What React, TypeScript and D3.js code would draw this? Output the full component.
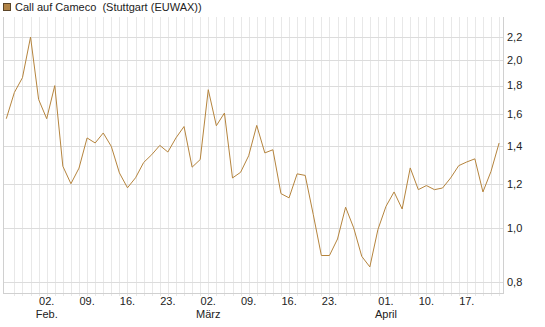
import React from 'react';
import * as d3 from 'd3';

// trading days (Stuttgart, Good Friday / Easter Monday closed)
const dates = [
  '2026-01-26', '2026-01-27', '2026-01-28', '2026-01-29', '2026-01-30',
  '2026-02-02', '2026-02-03', '2026-02-04', '2026-02-05', '2026-02-06',
  '2026-02-09', '2026-02-10', '2026-02-11', '2026-02-12', '2026-02-13',
  '2026-02-16', '2026-02-17', '2026-02-18', '2026-02-19', '2026-02-20',
  '2026-02-23', '2026-02-24', '2026-02-25', '2026-02-26', '2026-02-27',
  '2026-03-02', '2026-03-03', '2026-03-04', '2026-03-05', '2026-03-06',
  '2026-03-09', '2026-03-10', '2026-03-11', '2026-03-12', '2026-03-13',
  '2026-03-16', '2026-03-17', '2026-03-18', '2026-03-19', '2026-03-20',
  '2026-03-23', '2026-03-24', '2026-03-25', '2026-03-26', '2026-03-27',
  '2026-03-30', '2026-03-31', '2026-04-01', '2026-04-02',
  '2026-04-07', '2026-04-08', '2026-04-09', '2026-04-10',
  '2026-04-13', '2026-04-14', '2026-04-15', '2026-04-16', '2026-04-17',
  '2026-04-20', '2026-04-21', '2026-04-22', '2026-04-23',
];

const prices = [
  1.57, 1.75, 1.86, 2.2, 1.7, 1.57, 1.8, 1.29, 1.2, 1.28,
  1.45, 1.42, 1.48, 1.4, 1.255, 1.18, 1.23, 1.31, 1.353, 1.406,
  1.368, 1.45, 1.52, 1.285, 1.326, 1.77, 1.525, 1.607, 1.229, 1.258,
  1.347, 1.527, 1.363, 1.381, 1.152, 1.132, 1.25, 1.242, 1.056, 0.892,
  0.892, 0.955, 1.089, 1.0, 0.889, 0.851, 0.993, 1.093, 1.16,
  1.081, 1.281, 1.171, 1.191,
  1.171, 1.179, 1.229, 1.293, 1.313,
  1.33, 1.16, 1.263, 1.42,
];

const yTicks = [0.8, 1.0, 1.2, 1.4, 1.6, 1.8, 2.0, 2.2];

const xTickDates = [
  '2026-02-02', '2026-02-09', '2026-02-16', '2026-02-23', '2026-03-02',
  '2026-03-09', '2026-03-16', '2026-03-23', '2026-04-01', '2026-04-10', '2026-04-17',
];
const monthLabels = [
  { date: '2026-02-02', label: 'Feb.' },
  { date: '2026-03-02', label: 'März' },
  { date: '2026-04-01', label: 'April' },
];

const title = 'Call auf Cameco  (Stuttgart (EUWAX))';
const lineColor = '#b5843d';

const W = 545;
const H = 327;
const plot = { left: 3, right: 503, top: 17, bottom: 293 };

const App = () => {
  const x = d3.scaleLinear().domain([0, dates.length - 1]).range([6.3, 499.1]);
  const y = d3.scaleLog().domain([0.764, 2.39]).range([plot.bottom, plot.top]);

  const line = d3.line<number>()
    .x((d, i) => x(i))
    .y(d => y(d));

  const fmt = (v: number) => v.toFixed(1).replace('.', ',');
  const dayLabel = (s: string) => s.slice(8, 10) + '.';

  return (
    <svg
      width={W}
      height={H}
      style={{ position: 'absolute', left: 0, top: 0, fontFamily: 'Arial, "Liberation Sans", sans-serif' }}
    >
      <rect width={W} height={H} fill="#fff" />

      {/* vertical grid, one per trading day */}
      {dates.map((d, i) => i === 0 ? null : (
        <line key={d} x1={Math.round(x(i)) + 0.5} x2={Math.round(x(i)) + 0.5}
          y1={plot.top} y2={plot.bottom + 3} stroke="#e8e8e8" />
      ))}

      {/* horizontal grid */}
      {yTicks.map(t => (
        <line key={t} x1={plot.left} x2={plot.right} y1={Math.round(y(t)) + 0.5} y2={Math.round(y(t)) + 0.5}
          stroke="#dcdcdc" />
      ))}

      {/* frame */}
      <line x1={plot.left + 0.5} x2={plot.left + 0.5} y1={plot.top} y2={plot.bottom + 1} stroke="#d0d0d0" />
      <line x1={plot.right + 0.5} x2={plot.right + 0.5} y1={plot.top} y2={plot.bottom + 1} stroke="#d0d0d0" />
      <line x1={plot.left} x2={plot.right + 1} y1={plot.bottom + 0.5} y2={plot.bottom + 0.5} stroke="#d0d0d0" />

      <path d={line(prices) ?? ''} fill="none" stroke={lineColor} strokeWidth={1} />

      {/* y labels */}
      {yTicks.map(t => (
        <text key={t} x={507} y={y(t)} dy="0.35em" fontSize={11} fill="#222">{fmt(t)}</text>
      ))}

      {/* x labels */}
      {xTickDates.map(d => (
        <text key={d} x={x(dates.indexOf(d))} y={305} textAnchor="middle" fontSize={11} fill="#222">
          {dayLabel(d)}
        </text>
      ))}
      {monthLabels.map(m => (
        <text key={m.date} x={x(dates.indexOf(m.date))} y={318} textAnchor="middle" fontSize={11} fill="#222">
          {m.label}
        </text>
      ))}

      {/* legend */}
      <rect x={3.5} y={3.5} width={7} height={7} fill="#b08347" stroke="#5a4428" />
      <text x={15} y={11} fontSize={11} fill="#222" style={{ whiteSpace: 'pre' }}>{title}</text>
    </svg>
  );
};

export default App;
